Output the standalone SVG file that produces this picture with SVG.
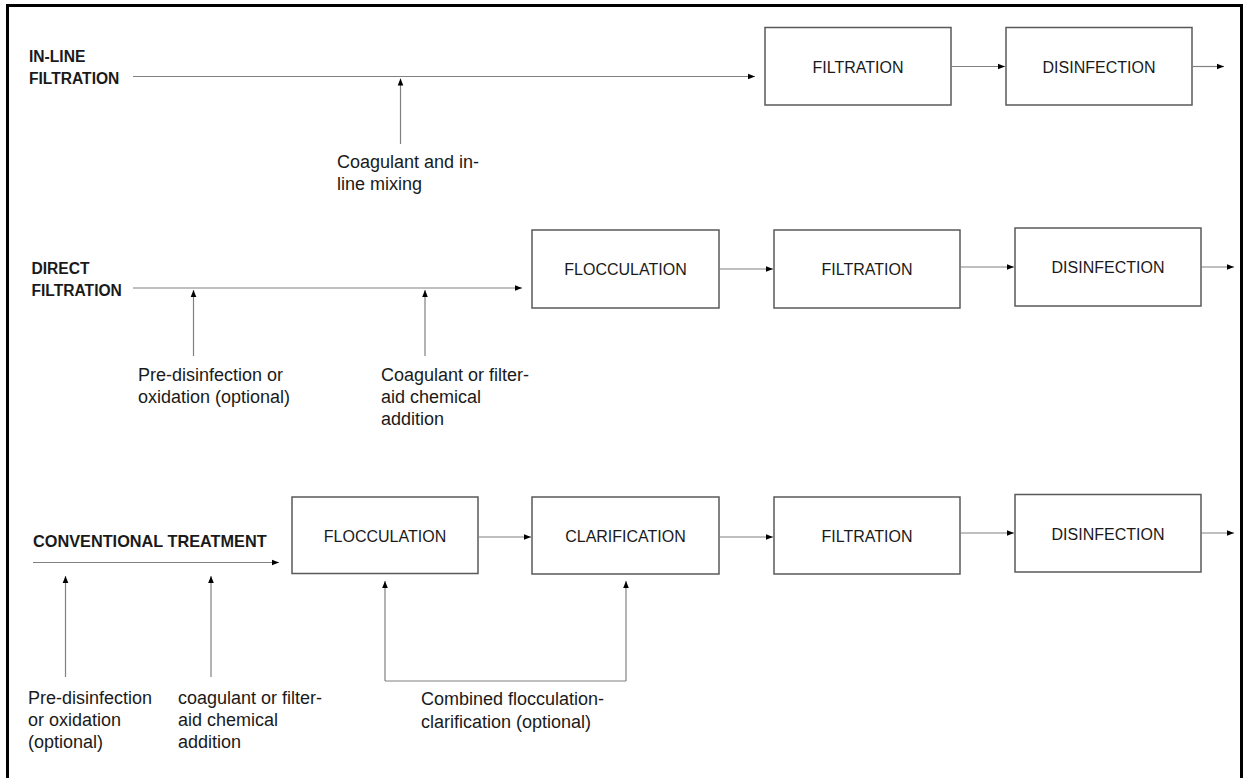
<svg xmlns="http://www.w3.org/2000/svg" width="1244" height="778" viewBox="0 0 1244 778">
  <defs>
    <marker id="ah" viewBox="0 0 8 8" refX="8" refY="4" markerWidth="7" markerHeight="7" markerUnits="userSpaceOnUse" orient="auto">
      <path d="M0,0.8 L8,4 L0,7.2 Z" fill="#000"/>
    </marker>
    <style>
      .box { fill: #fff; stroke: #595959; stroke-width: 1.5; }
      .lbl { font-family: "Liberation Sans", Arial, sans-serif; font-size: 16px; fill: #1a1a1a; text-anchor: middle; }
      .row { font-family: "Liberation Sans", Arial, sans-serif; font-size: 15.6px; font-weight: bold; fill: #1a1a1a; }
      .ann { font-family: "Liberation Sans", Arial, sans-serif; font-size: 18px; fill: #1a1a1a; }
      .cn { fill: none; stroke: #808080; stroke-width: 1.2; }
      .arr { marker-end: url(#ah); }
    </style>
  </defs>
  <rect width="1244" height="778" fill="#fff"/>
  <path d="M7.5,778 V5.5 H1241.5 V778" fill="none" stroke="#000" stroke-width="3"/>

  <!-- Row labels and annotations -->
  <g id="row-labels">
    <text class="row" x="29" y="62">IN-LINE</text>
    <text class="row" x="29" y="84">FILTRATION</text>
    <text class="row" x="31.5" y="274">DIRECT</text>
    <text class="row" x="31.5" y="296">FILTRATION</text>
    <text class="row" x="33" y="546.5" style="font-size:16.3px">CONVENTIONAL TREATMENT</text>
  </g>

  <g id="annotations">
    <text class="ann" x="337" y="168">Coagulant and in-</text>
    <text class="ann" x="337" y="190">line mixing</text>

    <text class="ann" x="138" y="381">Pre-disinfection or</text>
    <text class="ann" x="138" y="403">oxidation (optional)</text>
    <text class="ann" x="381" y="381">Coagulant or filter-</text>
    <text class="ann" x="381" y="403">aid chemical</text>
    <text class="ann" x="381" y="425">addition</text>

    <text class="ann" x="28" y="704">Pre-disinfection</text>
    <text class="ann" x="28" y="726">or oxidation</text>
    <text class="ann" x="28" y="748">(optional)</text>
    <text class="ann" x="178" y="704">coagulant or filter-</text>
    <text class="ann" x="178" y="726">aid chemical</text>
    <text class="ann" x="178" y="748">addition</text>
    <text class="ann" x="421" y="705">Combined flocculation-</text>
    <text class="ann" x="421" y="728">clarification (optional)</text>
  </g>

  <!-- Row 1 nodes -->
  <g id="r1-filtration">
    <rect class="box" x="765" y="27.5" width="186" height="77.5"/>
    <text class="lbl" x="858" y="73">FILTRATION</text>
  </g>
  <g id="r1-disinfection">
    <rect class="box" x="1006" y="27.5" width="186" height="77.5"/>
    <text class="lbl" x="1099" y="73">DISINFECTION</text>
  </g>

  <!-- Row 2 nodes -->
  <g id="r2-flocculation">
    <rect class="box" x="532" y="230" width="187" height="78"/>
    <text class="lbl" x="625.5" y="275">FLOCCULATION</text>
  </g>
  <g id="r2-filtration">
    <rect class="box" x="774" y="230" width="186" height="78"/>
    <text class="lbl" x="867" y="275">FILTRATION</text>
  </g>
  <g id="r2-disinfection">
    <rect class="box" x="1015" y="228" width="186" height="78"/>
    <text class="lbl" x="1108" y="273">DISINFECTION</text>
  </g>

  <!-- Row 3 nodes -->
  <g id="r3-flocculation">
    <rect class="box" x="292" y="497" width="186" height="76.5"/>
    <text class="lbl" x="385" y="542">FLOCCULATION</text>
  </g>
  <g id="r3-clarification">
    <rect class="box" x="532" y="497" width="187" height="77"/>
    <text class="lbl" x="625.5" y="542">CLARIFICATION</text>
  </g>
  <g id="r3-filtration">
    <rect class="box" x="774" y="497" width="186" height="77"/>
    <text class="lbl" x="867" y="542">FILTRATION</text>
  </g>
  <g id="r3-disinfection">
    <rect class="box" x="1015" y="494.5" width="186" height="77.5"/>
    <text class="lbl" x="1108" y="540">DISINFECTION</text>
  </g>

  <!-- Connectors -->
  <g id="connectors">
    <!-- Row 1 -->
    <path class="cn arr" d="M133,76.5 H755"/>
    <path class="cn arr" d="M400.5,144 V78.5"/>
    <path class="cn arr" d="M951,66.5 H1005"/>
    <path class="cn arr" d="M1192,66.5 H1224"/>
    <!-- Row 2 -->
    <path class="cn arr" d="M133,288 H522"/>
    <path class="cn arr" d="M193.5,356 V290"/>
    <path class="cn arr" d="M425,356 V290"/>
    <path class="cn arr" d="M719,269 H773"/>
    <path class="cn arr" d="M960,267 H1014"/>
    <path class="cn arr" d="M1201,267 H1234"/>
    <!-- Row 3 -->
    <path class="cn arr" d="M33,562.5 H279"/>
    <path class="cn arr" d="M65.5,677 V576"/>
    <path class="cn arr" d="M211,677 V576"/>
    <path class="cn arr" d="M478,537 H531"/>
    <path class="cn arr" d="M719,537 H773"/>
    <path class="cn arr" d="M960,533 H1014"/>
    <path class="cn arr" d="M1201,533 H1234"/>
    <path class="cn" d="M385,681 H626"/>
    <path class="cn arr" d="M385,681 V581"/>
    <path class="cn arr" d="M626,681 V581"/>
  </g>
</svg>
